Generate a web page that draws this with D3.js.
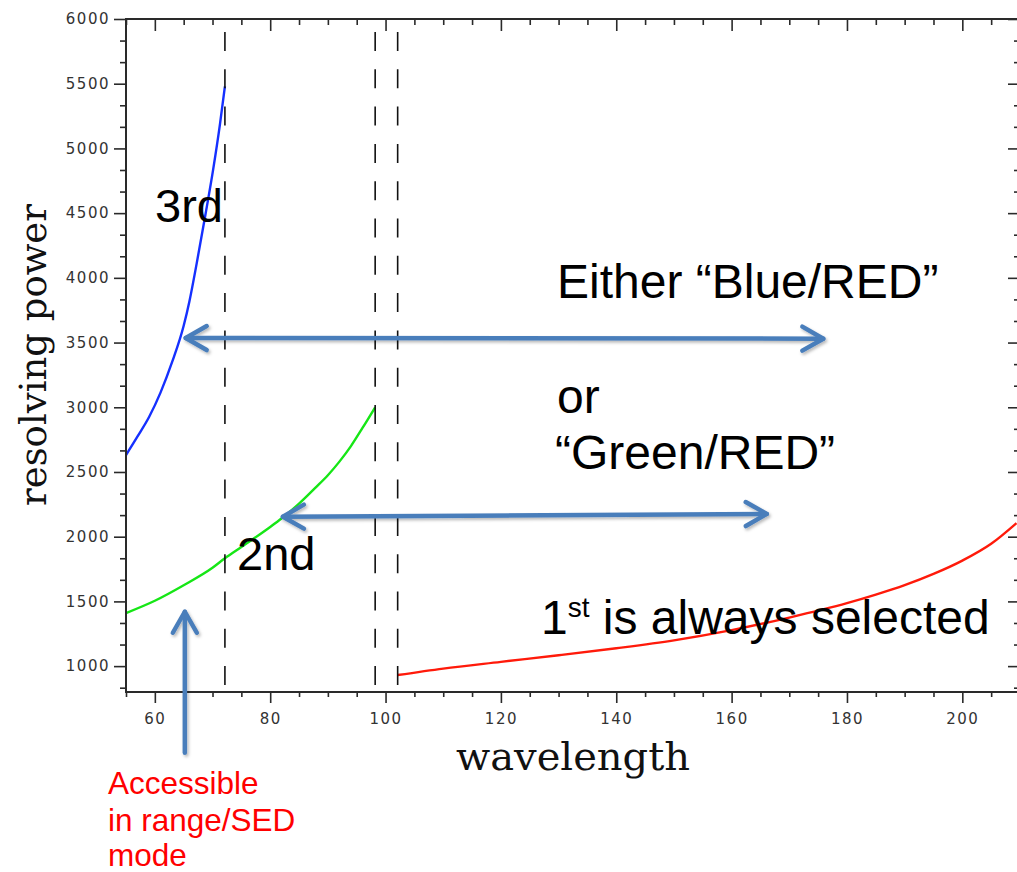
<!DOCTYPE html>
<html>
<head>
<meta charset="utf-8">
<script src="https://cdn.jsdelivr.net/npm/d3@7"></script>
<style>
  html, body { margin: 0; padding: 0; background: #fff; }
  svg { display: block; }
</style>
</head>
<body>
<svg id="chart" width="1017" height="872"></svg>
<script>
// ---- data ----
const thirdWave  = [55, 57, 59, 61, 63, 65, 66, 67.25, 68.8, 70.1, 71.3, 72.15];
const thirdPower = [2631, 2775, 2925, 3115, 3350, 3630, 3820, 4110, 4495, 4834, 5190, 5480];

const secondWave  = [55, 60, 65, 70, 72.15, 75, 80, 82, 85, 88, 90, 92, 94, 96, 98.2];
const secondPower = [1410, 1505, 1625, 1760, 1833, 1920, 2075, 2142, 2255, 2385, 2475, 2580, 2700, 2840, 3000];

const firstWave  = [102.1, 110, 120, 130, 140, 150, 160, 170, 180, 185, 190, 195, 200, 205, 209.4];
const firstPower = [931, 981, 1033, 1084, 1138, 1199, 1278, 1375, 1486, 1552, 1625, 1712, 1815, 1945, 2105];

const dashedWave = [72.15, 98.2, 102.1];

const xMajorTicks = [60, 80, 100, 120, 140, 160, 180, 200];
const yMajorTicks = [1000, 1500, 2000, 2500, 3000, 3500, 4000, 4500, 5000, 5500, 6000];

const xDomain = [55, 210];
const yDomain = [800, 6000];

// ---- layout ----
const svg = d3.select("#chart");
const L = 126, R = 1020, T = 19, B = 692;
const x = d3.scaleLinear().domain(xDomain).range([L, R]);
const y = d3.scaleLinear().domain(yDomain).range([B, T]);

const xMinor = d3.range(55, 211, 5).filter(v => !xMajorTicks.includes(v));
const yMinor = d3.range(0, 32).map(i => 800 + 100 / 3 + i * 500 / 3)
  .filter(v => v <= 6000 && !yMajorTicks.some(m => Math.abs(m - v) < 1));

const axisColor = "#2a2a2a";
const tickFont = "'DejaVu Sans', sans-serif";

// defs: drop shadow for arrows
const defs = svg.append("defs");
const f = defs.append("filter").attr("id", "shadow").attr("x", "-20%").attr("y", "-50%")
  .attr("width", "140%").attr("height", "200%");
f.append("feDropShadow").attr("dx", 1.5).attr("dy", 2).attr("stdDeviation", 1.5)
  .attr("flood-color", "#000").attr("flood-opacity", 0.28);

// ---- curves ----
const line = d3.line().x(d => x(d[0])).y(d => y(d[1])).curve(d3.curveMonotoneX);
const series = [
  { w: thirdWave, p: thirdPower, color: "#1530ff" },
  { w: secondWave, p: secondPower, color: "#16e616" },
  { w: firstWave, p: firstPower, color: "#ff1a0a" }
];
series.forEach(s => {
  svg.append("path")
    .datum(s.w.map((w, i) => [w, s.p[i]]))
    .attr("d", line)
    .attr("fill", "none")
    .attr("stroke", s.color)
    .attr("stroke-width", 2.4);
});

// ---- dashed lines ----
svg.selectAll("line.dash").data(dashedWave).join("line")
  .attr("class", "dash")
  .attr("x1", d => x(d)).attr("x2", d => x(d))
  .attr("y1", 32).attr("y2", B)
  .attr("stroke", "#111").attr("stroke-width", 1.6)
  .attr("stroke-dasharray", "19 18.3");

// ---- axes ----
function styleAxis(g, labels) {
  g.select(".domain").remove();
  g.selectAll(".tick line").attr("stroke", axisColor).attr("stroke-width", 1.6);
  g.selectAll(".tick text")
    .attr("fill", "#333")
    .style("font-family", tickFont)
    .style("font-size", "15px")
    .style("letter-spacing", "1.5px");
  if (!labels) g.selectAll(".tick text").remove();
}

// bottom
svg.append("g").attr("transform", `translate(0,${B})`)
  .call(d3.axisBottom(x).tickValues(xMajorTicks).tickSize(11).tickPadding(10).tickFormat(d3.format("d")))
  .call(g => styleAxis(g, true));
svg.append("g").attr("transform", `translate(0,${B})`)
  .call(d3.axisBottom(x).tickValues(xMinor).tickSize(5).tickFormat(""))
  .call(g => styleAxis(g, false));
// top (ticks inward)
svg.append("g").attr("transform", `translate(0,${T})`)
  .call(d3.axisBottom(x).tickValues(xMajorTicks).tickSize(12).tickFormat(""))
  .call(g => styleAxis(g, false));
svg.append("g").attr("transform", `translate(0,${T})`)
  .call(d3.axisBottom(x).tickValues(xMinor).tickSize(6).tickFormat(""))
  .call(g => styleAxis(g, false));
// left
svg.append("g").attr("transform", `translate(${L},0)`)
  .call(d3.axisLeft(y).tickValues(yMajorTicks).tickSize(12).tickPadding(4).tickFormat(d3.format("d")))
  .call(g => styleAxis(g, true));
svg.append("g").attr("transform", `translate(${L},0)`)
  .call(d3.axisLeft(y).tickValues(yMinor).tickSize(6).tickFormat(""))
  .call(g => styleAxis(g, false));
// right (ticks inward)
svg.append("g").attr("transform", `translate(${R},0)`)
  .call(d3.axisLeft(y).tickValues(yMajorTicks).tickSize(12).tickFormat(""))
  .call(g => styleAxis(g, false));
svg.append("g").attr("transform", `translate(${R},0)`)
  .call(d3.axisLeft(y).tickValues(yMinor).tickSize(6).tickFormat(""))
  .call(g => styleAxis(g, false));

// frame lines
svg.append("path")
  .attr("d", `M${R},${T}H${L}V${B}H${R}V${T}`)
  .attr("fill", "none").attr("stroke", axisColor).attr("stroke-width", 2);

// axis titles
svg.append("text")
  .attr("x", 573).attr("y", 770)
  .attr("text-anchor", "middle")
  .style("font-family", "'DejaVu Serif', serif")
  .style("font-size", "40px")
  .attr("fill", "#111")
  .text("wavelength");
svg.append("text")
  .attr("transform", "translate(46,355) rotate(-90)")
  .attr("text-anchor", "middle")
  .style("font-family", "'DejaVu Serif', serif")
  .style("font-size", "37px")
  .attr("fill", "#111")
  .text("resolving power");

// ---- annotation text ----
const big = "'Liberation Sans', Arial, sans-serif";
function bigText(tx, ty, str, size) {
  return svg.append("text").attr("x", tx).attr("y", ty)
    .style("font-family", big).style("font-size", (size || 47) + "px")
    .attr("fill", "#000").text(str);
}
bigText(155, 222, "3rd");
bigText(237, 570, "2nd");
bigText(557, 298, "Either \u201CBlue/RED\u201D", 48);
bigText(557, 413, "or", 48);
bigText(555, 469, "\u201CGreen/RED\u201D", 48);
const t1 = svg.append("text").attr("x", 541).attr("y", 634)
  .style("font-family", big).style("font-size", "48px").attr("fill", "#000");
t1.append("tspan").text("1");
t1.append("tspan").attr("dy", -17).style("font-size", "28px").text("st");
t1.append("tspan").attr("dy", 17).text(" is always selected");

const red = svg.append("text").style("font-family", big).style("font-size", "31.5px").attr("fill", "#ff0000");
[["Accessible", 794], ["in range/SED", 831], ["mode", 866]].forEach(([s, yy]) => {
  red.append("tspan").attr("x", 108).attr("y", yy).text(s);
});

// ---- arrows (in data coordinates) ----
const arrowColor = "#4a7ebb";
const ag = svg.append("g").attr("filter", "url(#shadow)")
  .attr("stroke", arrowColor).attr("stroke-width", 4.5).attr("fill", "none")
  .attr("stroke-linecap", "round").attr("stroke-linejoin", "round");

function head(px, py, ang) { // ang: direction arrow points (radians)
  const len = 21, half = 12;
  const bx = px - Math.cos(ang) * len, by = py - Math.sin(ang) * len;
  const nx = -Math.sin(ang) * half, ny = Math.cos(ang) * half;
  return `M${bx + nx},${by + ny}L${px},${py}L${bx - nx},${by - ny}`;
}
function arrow(a, b, both) {
  const [x1, y1] = [x(a[0]), y(a[1])], [x2, y2] = [x(b[0]), y(b[1])];
  const ang = Math.atan2(y2 - y1, x2 - x1);
  ag.append("path").attr("d", `M${x1},${y1}L${x2},${y2}`);
  ag.append("path").attr("d", head(x2, y2, ang));
  if (both) ag.append("path").attr("d", head(x1, y1, ang + Math.PI));
}
arrow([65.35, 3535], [175.9, 3530], true);
arrow([82.2, 2154], [166.1, 2176], true);
arrow([65.2, 330], [65.2, 1420], false);
</script>
</body>
</html>
